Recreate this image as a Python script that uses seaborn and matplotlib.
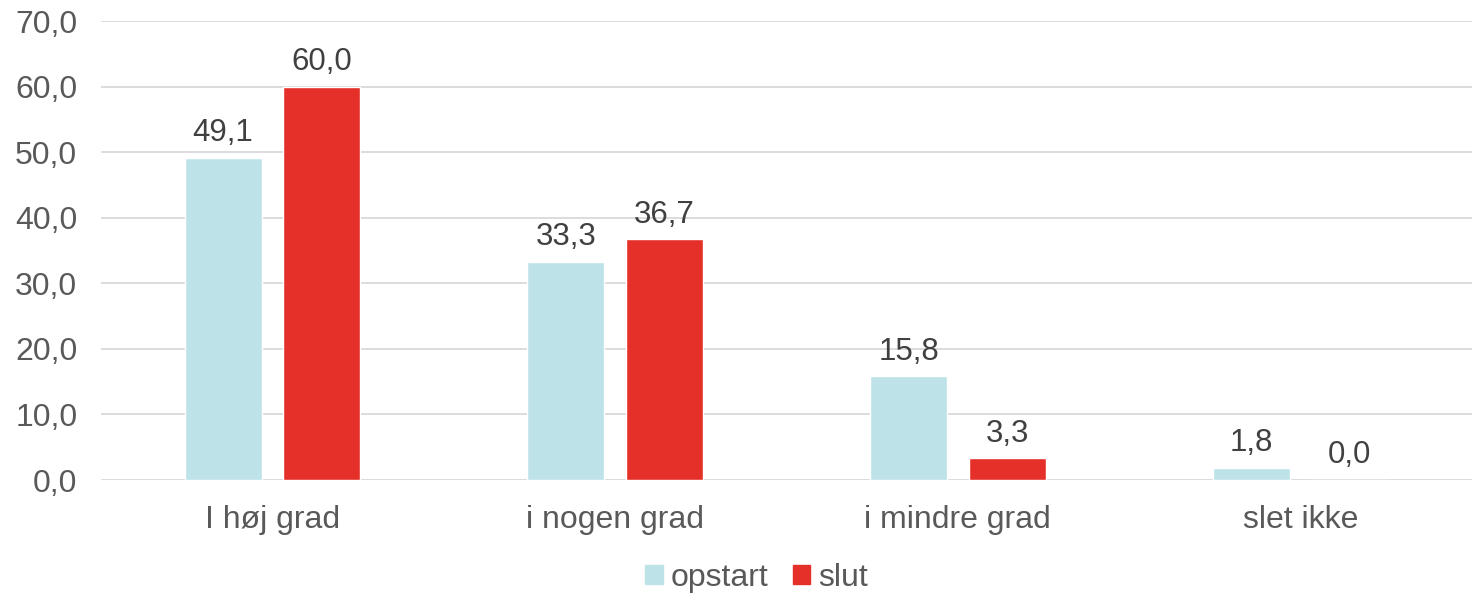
import matplotlib
matplotlib.use("Agg")
import matplotlib.pyplot as plt
import pandas as pd
import seaborn as sns

categories = ["I høj grad", "i nogen grad", "i mindre grad", "slet ikke"]
series = ["opstart", "slut"]
opstart = [49.1, 33.3, 15.8, 1.8]
slut = [60.0, 36.7, 3.3, 0.0]
y_ticks = [0, 10, 20, 30, 40, 50, 60, 70]

colors = {"opstart": "#BDE2E8", "slut": "#E5302A"}

df = pd.DataFrame({
    "kategori": categories * 2,
    "serie": [series[0]] * len(categories) + [series[1]] * len(categories),
    "værdi": opstart + slut,
})

sns.set_style("white")
plt.rcParams["font.family"] = ["Liberation Sans", "DejaVu Sans"]

fig = plt.figure(figsize=(14.72, 5.94), dpi=100)
ax = fig.add_axes([0.0686, 0.1919, 0.9314, 0.7727])

sns.barplot(data=df, x="kategori", y="værdi", hue="serie", order=categories,
            hue_order=series, palette=colors, width=0.575, gap=0.22,
            saturation=1, ax=ax, zorder=3, legend=False)

for cont in ax.containers:
    ax.bar_label(cont, labels=[f"{v:.1f}".replace(".", ",") for v in cont.datavalues],
                 padding=7, fontsize=22.5, color="#404040")

ax.set_ylim(0, 70)
ax.set_xlim(-0.5, 3.5)
ax.set_yticks(y_ticks)
ax.set_yticklabels([f"{t:.1f}".replace(".", ",") for t in y_ticks])
ax.yaxis.grid(True, color="#D9D9D9", linewidth=1.3, zorder=0)
ax.set_axisbelow(True)
for s in ax.spines.values():
    s.set_visible(False)
ax.tick_params(axis="both", length=0, labelsize=23, labelcolor="#595959")
ax.tick_params(axis="x", pad=18)
ax.tick_params(axis="y", pad=17)
ax.set_xlabel("")
ax.set_ylabel("")

handles = [plt.Rectangle((0, 0), 1, 1, color=colors[s]) for s in series]
fig.legend(handles, series, loc="center", bbox_to_anchor=(0.514, 0.027), ncol=2,
           frameon=False, fontsize=23, labelcolor="#595959", handlelength=0.55,
           handleheight=0.55, handletextpad=0.26, columnspacing=0.75,
           borderpad=0, borderaxespad=0)

fig.savefig("out.png", dpi=100)
